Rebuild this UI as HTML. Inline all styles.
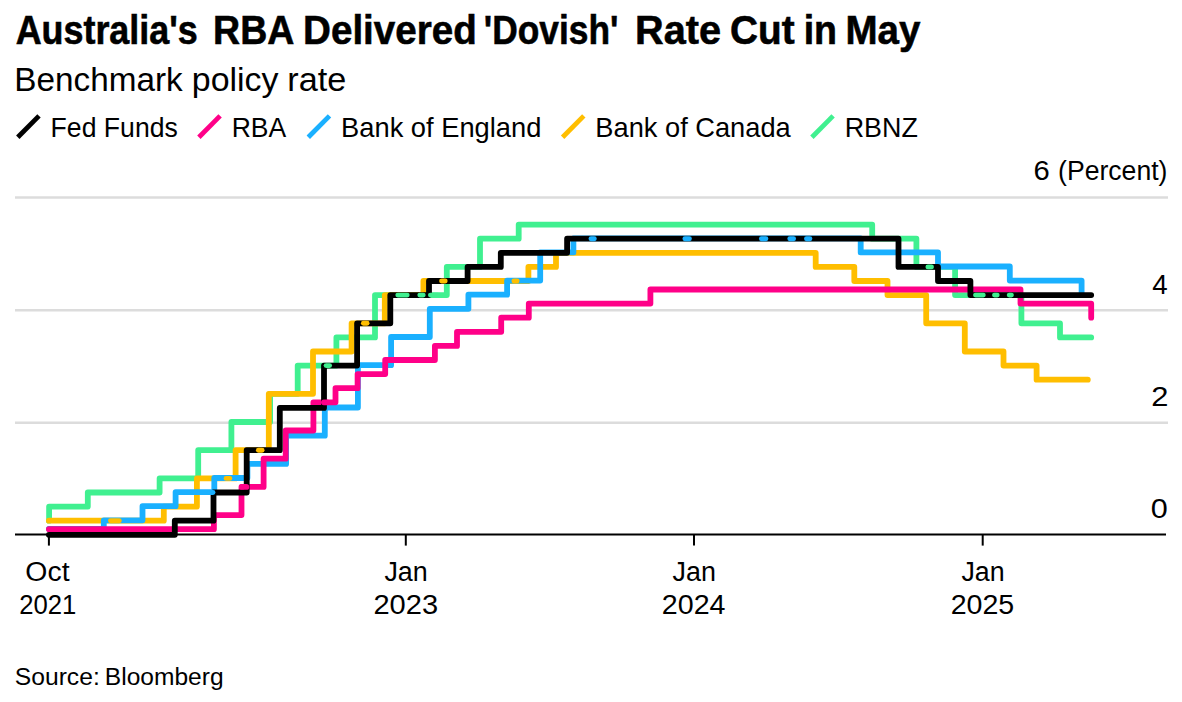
<!DOCTYPE html>
<html><head><meta charset="utf-8"><style>
html,body{margin:0;padding:0;background:#fff;}
svg{display:block;}
text{font-family:"Liberation Sans",Arial,sans-serif;fill:#000;}
</style></head><body>
<svg width="1182" height="702" viewBox="0 0 1182 702">
<line x1="17.8" y1="137.2" x2="39.0" y2="115.9" stroke="#000" stroke-width="4.8"/>
<line x1="198.9" y1="137.2" x2="220.1" y2="115.9" stroke="#ff0088" stroke-width="4.8"/>
<line x1="308.3" y1="137.2" x2="329.5" y2="115.9" stroke="#1ab0ff" stroke-width="4.8"/>
<line x1="562.6" y1="137.2" x2="583.8" y2="115.9" stroke="#ffbe00" stroke-width="4.8"/>
<line x1="811.9" y1="137.2" x2="833.1" y2="115.9" stroke="#40f090" stroke-width="4.8"/>
<g stroke="#dcdcdc" stroke-width="2.4">
<line x1="15" y1="197.5" x2="1168" y2="197.5"/>
<line x1="15" y1="310.2" x2="1168" y2="310.2"/>
<line x1="15" y1="422.8" x2="1168" y2="422.8"/>
</g>
<g fill="none" stroke-width="5.8" stroke-linecap="round" stroke-linejoin="round">
<path stroke="#40f090" d="M48.9 520.7H49.1V506.6H87.8V492.5H159.6V478.4H198.2V450.2H231.4V422.0H270.1V393.8H297.7V365.6H336.4V337.4H375.0V295.1H446.8V266.9H480.0V238.7H518.7V224.6H872.2V238.7H916.4V266.9H955.1V295.1H1021.4V323.3H1060.0V337.4H1091.2"/>
<path stroke="#ffbe00" d="M48.9 520.7H163.8V506.6H196.9V478.4H235.6V450.2H268.8V393.8H313.0V351.5H351.6V323.3H384.8V295.1H423.4V281.0H528.4V266.9H556.0V252.8H815.7V266.9H854.3V281.0H887.5V295.1H926.2V323.3H964.8V351.5H1003.5V365.6H1036.6V379.7H1087.8"/>
<path stroke="#1ab0ff" d="M48.9 528.8H103.8V520.3H142.5V506.2H175.6V492.1H214.3V478.0H247.4V463.9H286.1V435.7H324.8V407.5H357.9V365.2H391.1V337.0H429.8V308.8H468.4V294.7H507.1V280.6H540.2V252.4H573.4V238.3H860.7V252.4H938.0V266.5H1009.8V280.6H1081.6V294.7"/>
<path stroke="#ff0088" d="M48.9 529.2H213.9V515.1H241.5V486.9H263.6V458.7H285.7V430.5H313.4V402.3H335.5V388.2H357.6V374.1H385.2V360.0H434.9V345.9H457.0V331.8H501.2V317.7H528.8V303.6H650.4V289.5H1020.5V303.6H1091.2V317.7"/>
<path stroke="#000" d="M48.9 534.8H174.8V520.7H213.5V492.5H246.7V450.2H279.8V407.9H324.0V365.6H357.1V323.3H390.3V295.1H429.0V281.0H467.6V266.9H500.8V252.8H567.1V238.7H898.5V266.9H938.0V281.0H970.4V295.1H1091.2"/>
</g>
<g fill="none" stroke-width="4.9" stroke-linecap="round">
<line x1="110.5" y1="520.7" x2="119.3" y2="520.7" stroke="#ffbe00"/>
<line x1="226.1" y1="478.4" x2="229.8" y2="478.4" stroke="#ffbe00"/>
<line x1="258.4" y1="450.2" x2="262.1" y2="450.2" stroke="#ffbe00"/>
<line x1="326.1" y1="365.6" x2="329.6" y2="365.6" stroke="#40f090"/>
<line x1="363.4" y1="323.3" x2="367.1" y2="323.3" stroke="#ffbe00"/>
<line x1="397.8" y1="295.1" x2="407.2" y2="295.1" stroke="#40f090"/>
<line x1="419.8" y1="295.1" x2="423.2" y2="295.1" stroke="#40f090"/>
<line x1="441.6" y1="281.0" x2="445.2" y2="281.0" stroke="#ffbe00"/>
<line x1="513.9" y1="281.0" x2="517.1" y2="281.0" stroke="#ffbe00"/>
<line x1="591.0" y1="238.7" x2="594.3" y2="238.7" stroke="#1ab0ff"/>
<line x1="684.9" y1="238.7" x2="689.4" y2="238.7" stroke="#1ab0ff"/>
<line x1="761.4" y1="238.7" x2="765.9" y2="238.7" stroke="#1ab0ff"/>
<line x1="789.8" y1="238.7" x2="793.6" y2="238.7" stroke="#1ab0ff"/>
<line x1="806.5" y1="238.7" x2="809.9" y2="238.7" stroke="#1ab0ff"/>
<line x1="927.9" y1="266.9" x2="931.5" y2="266.9" stroke="#40f090"/>
<line x1="430.4" y1="295.1" x2="437.6" y2="295.1" stroke="#40f090"/>
<line x1="209.4" y1="492.5" x2="213.0" y2="492.5" stroke="#1ab0ff"/>
<line x1="975.5" y1="295.1" x2="983.3" y2="295.1" stroke="#40f090"/>
<line x1="994.5" y1="295.1" x2="997.2" y2="295.1" stroke="#40f090"/>
<line x1="1009.2" y1="295.1" x2="1011.4" y2="295.1" stroke="#40f090"/>
</g>
<g fill="none" stroke-width="5.8" stroke-linecap="round">
<line x1="242.0" y1="486.9" x2="246.4" y2="486.9" stroke="#ff0088"/>
<line x1="323.9" y1="402.3" x2="327.1" y2="402.3" stroke="#ff0088"/>
</g>
<g stroke="#000" stroke-width="2">
<line x1="15" y1="534.6" x2="1166" y2="534.6"/>
<line x1="48.9" y1="534.6" x2="48.9" y2="545.6"/>
<line x1="405.8" y1="534.6" x2="405.8" y2="545.6"/>
<line x1="694" y1="534.6" x2="694" y2="545.6"/>
<line x1="982.7" y1="534.6" x2="982.7" y2="545.6"/>
</g>
<text x="15.64" y="44.2" font-size="41.3" font-weight="bold" stroke="#000" stroke-width="0.6" textLength="182.12" lengthAdjust="spacingAndGlyphs">Australia's</text>
<text x="213.06" y="44.2" font-size="41.3" font-weight="bold" stroke="#000" stroke-width="0.6" textLength="81.26" lengthAdjust="spacingAndGlyphs">RBA</text>
<text x="303.09" y="44.2" font-size="41.3" font-weight="bold" stroke="#000" stroke-width="0.6" textLength="173.68" lengthAdjust="spacingAndGlyphs">Delivered</text>
<text x="483.84" y="44.2" font-size="41.3" font-weight="bold" stroke="#000" stroke-width="0.6" textLength="134.63" lengthAdjust="spacingAndGlyphs">'Dovish'</text>
<text x="635.02" y="44.2" font-size="41.3" font-weight="bold" stroke="#000" stroke-width="0.6" textLength="85.97" lengthAdjust="spacingAndGlyphs">Rate</text>
<text x="729.99" y="44.2" font-size="41.3" font-weight="bold" stroke="#000" stroke-width="0.6" textLength="64.60" lengthAdjust="spacingAndGlyphs">Cut</text>
<text x="803.65" y="44.2" font-size="41.3" font-weight="bold" stroke="#000" stroke-width="0.6" textLength="33.36" lengthAdjust="spacingAndGlyphs">in</text>
<text x="845.49" y="44.2" font-size="41.3" font-weight="bold" stroke="#000" stroke-width="0.6" textLength="74.96" lengthAdjust="spacingAndGlyphs">May</text>
<text x="14.30" y="90.7" font-size="33" textLength="168.38" lengthAdjust="spacingAndGlyphs">Benchmark</text>
<text x="191.78" y="90.7" font-size="33" textLength="86.72" lengthAdjust="spacingAndGlyphs">policy</text>
<text x="287.36" y="90.7" font-size="33" textLength="59.03" lengthAdjust="spacingAndGlyphs">rate</text>
<text x="50.62" y="137.0" font-size="27.3" textLength="127.21" lengthAdjust="spacingAndGlyphs">Fed Funds</text>
<text x="231.73" y="137.0" font-size="27.3" textLength="54.54" lengthAdjust="spacingAndGlyphs">RBA</text>
<text x="341.07" y="137.0" font-size="27.3" textLength="200.37" lengthAdjust="spacingAndGlyphs">Bank of England</text>
<text x="595.37" y="137.0" font-size="27.3" textLength="195.36" lengthAdjust="spacingAndGlyphs">Bank of Canada</text>
<text x="844.70" y="137.0" font-size="27.3" textLength="73.16" lengthAdjust="spacingAndGlyphs">RBNZ</text>
<text x="1033.53" y="180.1" font-size="27" textLength="16.25" lengthAdjust="spacingAndGlyphs">6</text>
<text x="1058.05" y="180.1" font-size="27" textLength="109.42" lengthAdjust="spacingAndGlyphs">(Percent)</text>
<text x="1152.27" y="294.0" font-size="27" textLength="15.42" lengthAdjust="spacingAndGlyphs">4</text>
<text x="1151.25" y="406.2" font-size="27" textLength="17.20" lengthAdjust="spacingAndGlyphs">2</text>
<text x="1150.74" y="518.0" font-size="27" textLength="17.02" lengthAdjust="spacingAndGlyphs">0</text>
<text x="25.37" y="580.5" font-size="27" textLength="44.24" lengthAdjust="spacingAndGlyphs">Oct</text>
<text x="384.38" y="580.5" font-size="27" textLength="43.33" lengthAdjust="spacingAndGlyphs">Jan</text>
<text x="672.58" y="580.5" font-size="27" textLength="43.33" lengthAdjust="spacingAndGlyphs">Jan</text>
<text x="961.48" y="580.5" font-size="27" textLength="43.22" lengthAdjust="spacingAndGlyphs">Jan</text>
<text x="19.20" y="613.8" font-size="27" textLength="57.15" lengthAdjust="spacingAndGlyphs">2021</text>
<text x="373.44" y="613.8" font-size="27" textLength="64.64" lengthAdjust="spacingAndGlyphs">2023</text>
<text x="661.86" y="613.8" font-size="27" textLength="63.65" lengthAdjust="spacingAndGlyphs">2024</text>
<text x="950.66" y="613.8" font-size="27" textLength="63.60" lengthAdjust="spacingAndGlyphs">2025</text>
<text x="14.83" y="685.3" font-size="23" textLength="84.90" lengthAdjust="spacingAndGlyphs">Source:</text>
<text x="104.88" y="685.3" font-size="23" textLength="118.70" lengthAdjust="spacingAndGlyphs">Bloomberg</text>
</svg>
</body></html>
